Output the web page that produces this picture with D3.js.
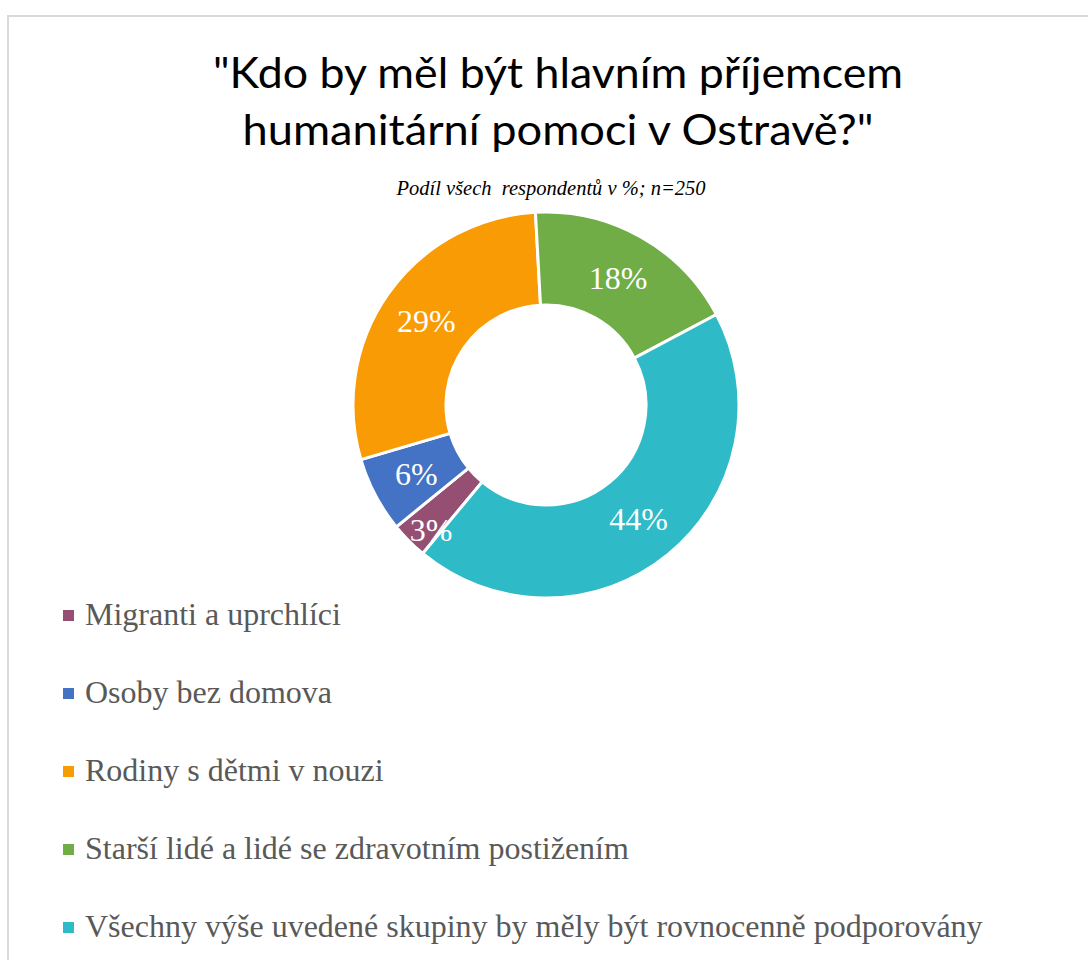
<!DOCTYPE html>
<html>
<head>
<meta charset="utf-8">
<script src="https://cdn.jsdelivr.net/npm/d3@7"></script>
<style>
  html, body { margin: 0; padding: 0; background: #ffffff; }
  svg { display: block; }
</style>
</head>
<body>
<svg id="chart" width="1088" height="960"></svg>
<script>
const titleLines = ["\"Kdo by měl být hlavním příjemcem", "humanitární pomoci v Ostravě?\""];
const subtitle = "Podíl všech  respondentů v %; n=250";
const categories = [
  "Migranti a uprchlíci",
  "Osoby bez domova",
  "Rodiny s dětmi v nouzi",
  "Starší lidé a lidé se zdravotním postižením",
  "Všechny výše uvedené skupiny by měly být rovnocenně podporovány"
];
const values = [3.1, 6.3, 28.7, 18.1, 43.8];
const valueLabels = ["3%", "6%", "29%", "18%", "44%"];
const colors = ["#954F72", "#4472C4", "#F99B05", "#70AD47", "#2EBAC6"];

const svg = d3.select("#chart");
const W = 1088, H = 960;
const serif = "'Liberation Serif', 'Times New Roman', Times, serif";

// frame
svg.append("rect")
  .attr("x", 8).attr("y", 16)
  .attr("width", W + 20).attr("height", H + 20)
  .attr("fill", "#ffffff")
  .attr("stroke", "#d9d9d9").attr("stroke-width", 2);

// title
const titleY = [88, 145];
const titleW = [690, 631];
titleLines.forEach((t, i) => {
  svg.append("text")
    .attr("x", 558).attr("y", titleY[i])
    .attr("text-anchor", "middle")
    .attr("font-family", "Lato, 'Open Sans', sans-serif")
    .attr("font-size", 43)
    .attr("fill", "#000000")
    .attr("textLength", titleW[i])
    .attr("lengthAdjust", "spacingAndGlyphs")
    .text(t);
});

svg.append("text")
  .attr("x", 551).attr("y", 195)
  .attr("text-anchor", "middle")
  .style("font-family", serif)
  .attr("font-style", "italic")
  .attr("font-size", 21)
  .attr("fill", "#000000")
  .attr("textLength", 309)
  .attr("lengthAdjust", "spacingAndGlyphs")
  .style("white-space", "pre")
  .text(subtitle);

// donut
const cx = 546, cy = 405, rOuter = 193, rInner = 100;
const start = 219.7 * Math.PI / 180;
const pie = d3.pie().sort(null).value(d => d).startAngle(start).endAngle(start + 2 * Math.PI);
const arcs = pie(values);
const arc = d3.arc().innerRadius(rInner).outerRadius(rOuter);
const labelArc = d3.arc().innerRadius(rInner).outerRadius(rOuter);
const smallArc = d3.arc().innerRadius(150).outerRadius(196);

const g = svg.append("g").attr("transform", `translate(${cx},${cy})`);
g.selectAll("path.slice")
  .data(arcs)
  .enter().append("path")
  .attr("class", "slice")
  .attr("d", arc)
  .attr("fill", (d, i) => colors[i])
  .attr("stroke", "#ffffff")
  .attr("stroke-width", 3)
  .attr("stroke-linejoin", "round");

g.selectAll("text.lbl")
  .data(arcs)
  .enter().append("text")
  .attr("class", "lbl")
  .attr("transform", d => {
    const c = (d.value < 5 ? smallArc : labelArc).centroid(d);
    return `translate(${c[0]},${c[1]})`;
  })
  .attr("text-anchor", "middle")
  .attr("dx", d => d.value < 5 ? 8 : 0)
  .attr("dy", d => d.value < 5 ? "0.45em" : "0.35em")
  .style("font-family", serif)
  .attr("font-size", 32)
  .attr("fill", "#ffffff")
  .text((d, i) => valueLabels[i]);

// legend
const legendY = d3.scaleLinear().domain([0, 4]).range([625, 937]);
const lg = svg.append("g");
categories.forEach((c, i) => {
  const y = legendY(i);
  lg.append("rect")
    .attr("x", 63).attr("y", y - 15)
    .attr("width", 11).attr("height", 11)
    .attr("fill", colors[i]);
  lg.append("text")
    .attr("x", 85).attr("y", y)
    .style("font-family", serif)
    .attr("font-size", 32)
    .attr("fill", "#595959")
    .text(c);
});
</script>
</body>
</html>
